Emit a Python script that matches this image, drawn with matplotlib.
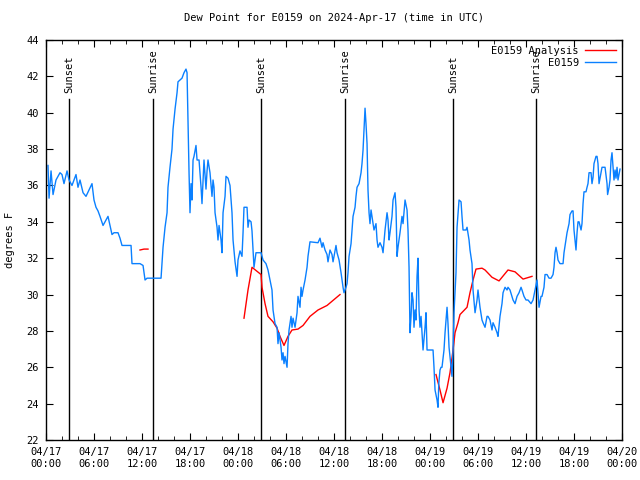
import numpy as np
import matplotlib
matplotlib.use("Agg")
import matplotlib.pyplot as plt
from matplotlib.ticker import MultipleLocator

# heures depuis 2024-04-17 00:00 UTC
obs_h = [0.25, 0.38, 0.63, 0.88, 1.25, 1.75, 2.0, 2.25, 2.63, 2.88, 3.25, 3.75, 4.0, 4.25, 4.63, 5.0,
         5.75, 6.0, 6.25, 6.5, 6.75, 7.13, 7.5, 7.75, 8.0, 8.25, 8.5, 9.0, 9.25, 9.5, 10.63, 10.75,
         11.75, 12.13, 12.38, 12.63, 14.38, 14.5, 14.63, 14.88, 15.13, 15.25, 15.5, 15.75, 15.88, 16.13,
         16.38, 16.5, 17.0, 17.25, 17.5, 17.63, 17.75, 17.88, 18.0, 18.13, 18.25, 18.38, 18.5, 18.75,
         18.88, 19.13, 19.38, 19.5, 19.63, 19.75, 20.0, 20.13, 20.25, 20.5, 20.75, 20.88, 21.0, 21.13,
         21.38, 21.5, 21.63, 21.88, 22.0, 22.13, 22.38, 22.5, 22.75, 23.0, 23.25, 23.38, 23.63, 23.88,
         24.0, 24.25, 24.5, 24.63, 24.75, 25.13, 25.25, 25.38, 25.63, 25.75, 25.88, 26.0, 26.25, 26.88,
         27.13, 27.5, 27.75, 28.0, 28.25, 28.38, 28.63, 28.88, 29.0, 29.13, 29.38, 29.5, 29.63, 29.75,
         29.88, 30.13, 30.25, 30.38, 30.63, 30.75, 30.88, 31.13, 31.38, 31.5, 31.75, 31.88, 32.0, 32.13,
         32.38, 32.63, 32.75, 33.0, 34.0, 34.25, 34.5, 34.63, 34.88, 35.13, 35.25, 35.5, 35.75, 35.88,
         36.25, 36.38, 36.63, 36.88, 37.13, 37.25, 37.5, 37.63, 37.75, 37.88, 38.13, 38.25, 38.38, 38.63,
         38.75, 38.88, 39.13, 39.38, 39.5, 39.63, 39.75, 39.88, 40.0, 40.13, 40.25, 40.38, 40.5, 40.63,
         40.75, 40.88, 41.0, 41.25, 41.38, 41.5, 41.75, 42.0, 42.13, 42.38, 42.63, 42.75, 42.88, 43.0,
         43.25, 43.38, 43.63, 43.75, 43.88, 44.0, 44.25, 44.5, 44.63, 44.75, 44.88, 45.13, 45.25, 45.38,
         45.5, 45.63, 45.75, 45.88, 46.0, 46.13, 46.25, 46.38, 46.5, 46.63, 46.75, 46.88, 47.0, 47.13,
         47.38, 47.5, 47.63, 48.38, 48.5, 48.63, 48.88, 49.0, 49.1, 49.25, 49.38, 49.5, 49.75, 49.88,
         50.13, 50.25, 50.38, 50.63, 50.75, 50.88, 51.0, 51.25, 51.38, 51.63, 51.88, 52.0, 52.13, 52.5,
         52.63, 52.88, 53.0, 53.25, 53.38, 53.63, 53.88, 54.0, 54.25, 54.5, 54.63, 54.88, 55.13, 55.25,
         55.5, 55.75, 55.88, 56.13, 56.38, 56.5, 56.75, 57.0, 57.13, 57.38, 57.63, 57.75, 58.0, 58.25,
         58.38, 58.63, 58.88, 59.13, 59.38, 59.5, 59.75, 60.0, 60.25, 60.63, 60.88, 61.13, 61.38, 61.5,
         61.63, 61.88, 62.0, 62.25, 62.38, 62.63, 62.88, 63.13, 63.38, 63.5, 63.63, 63.75, 63.88, 64.0,
         64.25, 64.63, 64.75, 65.0, 65.13, 65.38, 65.5, 65.75, 65.88, 66.0, 66.25, 66.38, 66.5, 66.63,
         66.88, 67.0, 67.13, 67.25, 67.5, 67.63, 67.75, 67.88, 68.13, 68.25, 68.38, 68.5, 68.75, 68.88,
         69.0, 69.13, 69.38, 69.5, 69.88, 70.13, 70.2, 70.38, 70.5, 70.63, 70.75, 70.88, 71.0, 71.13,
         71.25, 71.38, 71.5, 71.75]
obs_f = [37.1, 35.3, 36.8, 35.5, 36.3, 36.7, 36.6, 36.1, 36.8, 36.3, 36.0, 36.6, 35.9, 36.3, 35.6, 35.4,
         36.1, 35.2, 34.8, 34.6, 34.3, 33.8, 34.1, 34.3, 33.8, 33.3, 33.4, 33.4, 33.1, 32.7, 32.7, 31.7,
         31.7, 31.6, 30.8, 30.9, 30.9, 31.7, 32.6, 33.7, 34.5, 35.9, 37.0, 38.0, 39.1, 40.2,
         41.1, 41.7, 41.9, 42.2, 42.4, 42.2, 39.6, 36.7, 34.5, 36.1, 35.2, 37.4, 37.6, 38.2,
         37.4, 37.4, 35.9, 35.0, 36.3, 37.4, 35.8, 36.8, 37.4, 36.7, 35.4, 36.3, 35.9, 34.5,
         33.7, 33.0, 33.8, 33.0, 32.3, 34.5, 35.4, 36.5, 36.4, 36.0, 34.5, 33.0, 31.8, 31.0,
         31.9, 32.4, 32.1, 33.4, 34.8, 34.8, 33.7, 34.1, 34.0, 33.5, 32.4, 31.5, 32.3, 32.3,
         31.9, 31.7, 31.35, 30.8, 30.25, 29.15, 28.4, 28.2, 27.3, 27.9, 27.1, 26.4, 26.8, 26.2,
         26.6, 26.0, 27.3, 28.05, 28.8, 28.2, 28.7, 28.2, 29.0, 29.9, 29.3, 30.4, 29.9, 30.25,
         30.8, 31.5, 32.1, 32.9, 32.85, 33.1, 32.6, 32.85, 32.45, 32.2, 31.8, 32.45, 32.2, 31.8,
         32.7, 32.3, 31.9, 31.2, 30.4, 30.1, 30.4, 30.6, 31.2, 32.1, 32.8, 33.5, 34.3, 34.8,
         35.4, 35.9, 36.1, 36.7, 37.2, 37.95, 39.05, 40.25, 39.4, 38.3, 35.75, 34.5, 33.9, 34.65,
         34.3, 33.9, 33.55, 33.9, 33.0, 32.6, 32.85, 32.6, 32.3, 33.55, 34.5, 34.1, 33.0, 33.4,
         34.3, 35.2, 35.6, 34.8, 32.1, 32.6, 33.4, 34.3, 33.9, 34.5, 35.2, 34.65, 33.55, 31.5,
         27.9, 28.8, 30.1, 29.7, 28.2, 29.15, 28.6, 31.0, 32.0, 29.15, 28.2, 28.8, 27.9, 26.95,
         28.2, 29.0, 26.95, 26.95, 26.0, 24.75, 24.2, 23.8, 25.1, 25.85, 26.0, 26.0, 26.95, 27.9,
         29.3, 28.4, 27.1, 26.0, 25.5, 26.95, 29.0, 31.2, 33.7, 35.2, 35.1, 34.3, 33.55, 33.55,
         33.7, 33.0, 32.45, 31.7, 30.25, 29.0, 29.7, 30.25, 29.3, 28.6, 28.45, 28.2, 28.8, 28.8,
         28.6, 28.05, 28.45, 28.2, 27.9, 27.7, 28.8, 29.5, 30.1, 30.4, 30.25, 30.4, 30.25, 29.9,
         29.7, 29.5, 29.9, 30.1, 30.4, 30.25, 29.9, 29.7, 29.7, 29.5, 29.7, 30.25, 30.8, 30.1,
         29.3, 29.9, 29.9, 30.4, 31.1, 31.1, 30.9, 30.9, 31.1, 31.5, 32.3, 32.6, 32.3, 31.9,
         31.7, 31.7, 32.3, 33.0, 33.4, 33.9, 34.4, 34.6, 34.6, 33.55, 32.45, 33.4, 34.0, 34.0,
         33.55, 33.9, 35.0, 35.65, 35.65, 35.9, 36.1, 36.7, 36.7, 36.1, 36.45, 37.2, 37.6, 37.6,
         37.2, 36.1, 36.7, 37.0, 37.0, 36.1, 35.5, 35.9, 36.3, 37.4, 37.8, 37.0, 36.3, 36.85,
         36.4, 37.0, 36.3, 36.9]

# analyse (nan = trou entre les runs)
ana_h = [11.75, 12.25, 12.75, np.nan,
         24.75, 25.25, 25.75, 26.88, 27.0, 27.38, 27.75, 28.38, 28.88, 29.25, 29.75, 30.25, 30.75,
         31.5, 32.13, 33.0, 34.0, 35.13, 36.75, np.nan,
         48.75, 49.25, 49.63, 50.13, 50.5, 50.88, 51.13, 51.5, 51.75, 52.63, 53.0, 53.38, 53.75,
         54.5, 54.88, 55.75, 56.63, 57.75, 58.63, 59.63, 60.75]
ana_f = [32.45, 32.5, 32.5, np.nan,
         28.7, 30.25, 31.5, 31.1, 30.4, 29.5, 28.8, 28.5, 28.15, 27.7, 27.2, 27.7, 28.05,
         28.1, 28.3, 28.8, 29.15, 29.4, 30.0, np.nan,
         25.6, 24.75, 24.05, 24.85, 25.7, 26.95, 27.9, 28.45, 28.9, 29.3, 30.1, 30.8, 31.4,
         31.45, 31.35, 30.95, 30.75, 31.35, 31.25, 30.85, 31.0]

sun_h = [2.88, 13.38, 26.88, 37.38, 50.88, 61.25]
sun_lbl = ['Sunset', 'Sunrise', 'Sunset', 'Sunrise', 'Sunset', 'Sunrise']

tick_h = list(range(0, 73, 6))
tick_lbl = ['04/17\n00:00', '04/17\n06:00', '04/17\n12:00', '04/17\n18:00',
            '04/18\n00:00', '04/18\n06:00', '04/18\n12:00', '04/18\n18:00',
            '04/19\n00:00', '04/19\n06:00', '04/19\n12:00', '04/19\n18:00',
            '04/20\n00:00']

plt.rcParams['font.family'] = 'DejaVu Sans Mono'
plt.rcParams['font.size'] = 7

fig = plt.figure(figsize=(6.4, 4.8), dpi=100)
ax = fig.add_axes([46/640, 40/480, 576/640, 400/480])

# lignes lever / coucher du soleil
for h, lbl in zip(sun_h, sun_lbl):
    ax.plot([h, h], [22, 40.75], color='black', linewidth=1)
    ax.text(h, 41.1, lbl, rotation=90, ha='center', va='bottom', fontsize=7.5)

ax.plot(ana_h, ana_f, color='#ff0000', linewidth=1, label='E0159 Analysis')
ax.plot(obs_h, obs_f, color='#0a80ff', linewidth=1, label='E0159')

ax.set_xlim(0, 72)
ax.set_ylim(22, 44)
ax.set_xticks(tick_h)
ax.set_xticklabels(tick_lbl)
ax.xaxis.set_minor_locator(MultipleLocator(2))
ax.set_yticks(range(22, 45, 2))
ax.tick_params(which='both', direction='in', top=True, right=True, labelsize=7.5, pad=5)
ax.tick_params(which='major', length=5)
ax.tick_params(which='minor', length=3)
for s in ax.spines.values():
    s.set_linewidth(1)

ax.set_ylabel('degrees F', fontsize=7.5, labelpad=8)
ax.set_title('Dew Point for E0159 on 2024-Apr-17 (time in UTC)', fontsize=7.5, pad=14)

leg = ax.legend(loc='upper right', frameon=False, fontsize=7.5, markerfirst=False,
                handlelength=3, handletextpad=0.6, borderaxespad=0.15, labelspacing=0.2)
for t in leg.get_texts():
    t.set_ha('right')
leg._legend_box.align = 'right'

fig.savefig('out.png', dpi=100)
